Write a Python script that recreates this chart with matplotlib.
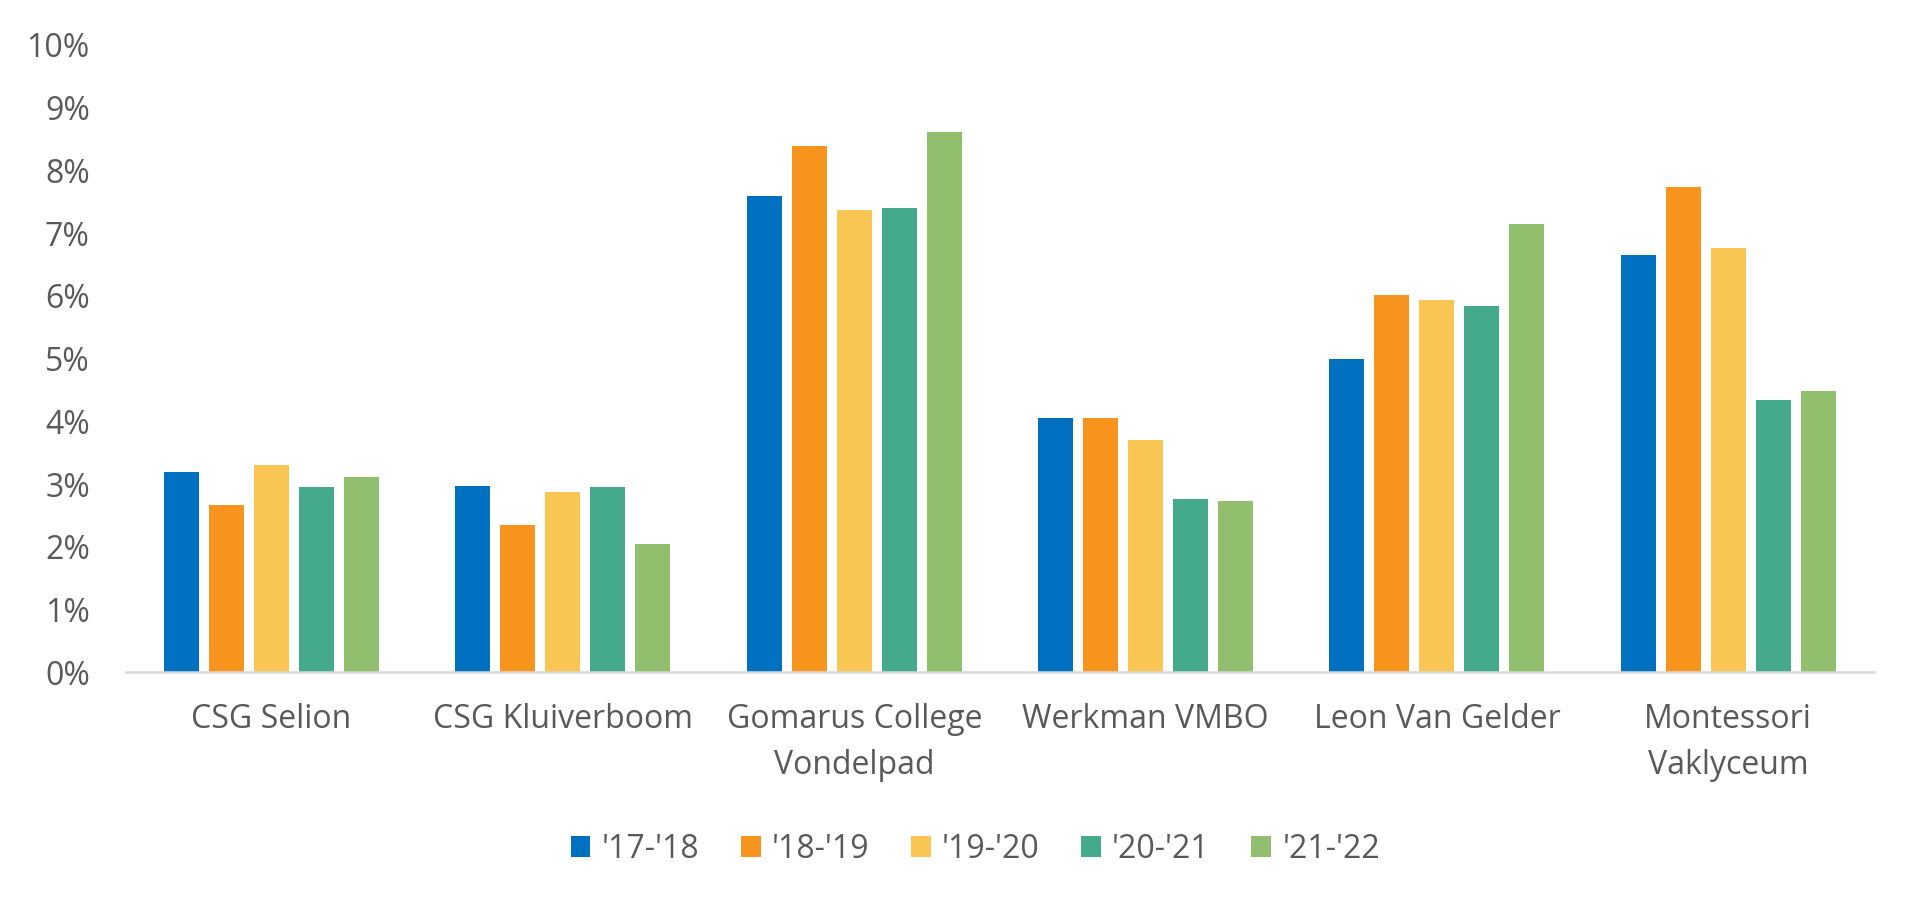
import numpy as np
import matplotlib
matplotlib.use("Agg")
import matplotlib.pyplot as plt
from matplotlib.patches import Patch
from matplotlib.ticker import FuncFormatter

# data (percent)
schools = ["CSG Selion", "CSG Kluiverboom", "Gomarus College\nVondelpad",
           "Werkman VMBO", "Leon Van Gelder", "Montessori\nVaklyceum"]
years = ["'17-'18", "'18-'19", "'19-'20", "'20-'21", "'21-'22"]
y1718 = [3.20, 2.97, 7.59, 4.06, 5.00, 6.65]
y1819 = [2.67, 2.35, 8.39, 4.06, 6.02, 7.73]
y1920 = [3.30, 2.87, 7.37, 3.71, 5.93, 6.77]
y2021 = [2.96, 2.96, 7.40, 2.77, 5.84, 4.35]
y2122 = [3.12, 2.05, 8.61, 2.73, 7.14, 4.49]
series = [y1718, y1819, y1920, y2021, y2122]
colors = ["#0070C0", "#F7941D", "#F9C654", "#45AA8B", "#91BF6E"]

text_col = "#595959"
plt.rcParams['font.family'] = ['Open Sans', 'DejaVu Sans']

fig = plt.figure(figsize=(19.2, 9.09), dpi=100)
ax = fig.add_axes([0.0656, 0.2602, 0.9104, 0.6903])

x = np.arange(len(schools))
width = 0.12
pitch = 0.1545
for i, (vals, c) in enumerate(zip(series, colors)):
    ax.bar(x + (i - 2) * pitch, vals, width, color=c, label=years[i], zorder=2)

ax.set_xlim(-0.5, len(schools) - 0.5)
ax.set_ylim(0, 10)
ax.set_yticks(np.arange(0, 11, 1))
ax.yaxis.set_major_formatter(FuncFormatter(lambda v, p: f"{v:.0f}%"))
ax.set_xticks(x)
ax.set_xticklabels(schools, linespacing=1.5)

for s in ["top", "right", "left"]:
    ax.spines[s].set_visible(False)
ax.spines["bottom"].set_color("#D9D9D9")
ax.spines["bottom"].set_linewidth(1.8)
ax.spines["bottom"].set_zorder(3)

ax.tick_params(axis="y", length=0, pad=26, labelsize=23, labelcolor=text_col)
ax.tick_params(axis="x", length=0, pad=22, labelsize=23, labelcolor=text_col)

handles = [Patch(facecolor=c, label=l) for c, l in zip(colors, years)]
fig.legend(handles=handles, loc="center", bbox_to_anchor=(0.508, 0.066), ncol=5,
           frameon=False, fontsize=23, labelcolor=text_col,
           handlelength=0.62, handleheight=0.62, handletextpad=0.35,
           columnspacing=1.3)

fig.savefig("out.png", dpi=100, facecolor="white")
